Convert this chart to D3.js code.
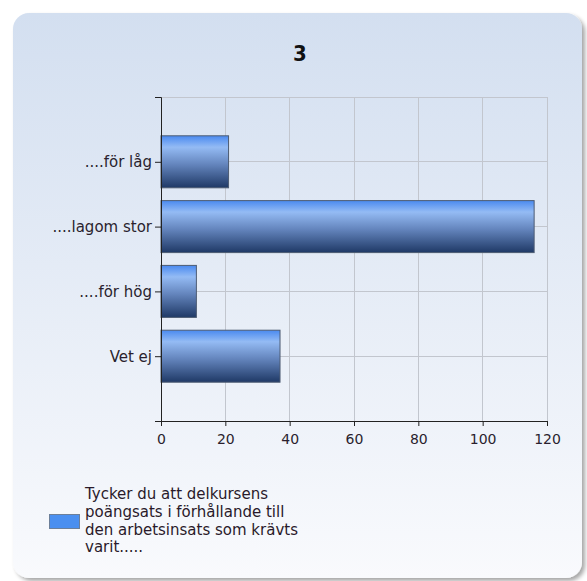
<!DOCTYPE html>
<html><head><meta charset="utf-8">
<script src="https://cdn.jsdelivr.net/npm/d3@7"></script>
<style>body{margin:0;background:#fff}svg{display:block}</style>
</head><body>
<script>
const title = "3";
const categories = ["....för låg", "....lagom stor", "....för hög", "Vet ej"];
const values = [21, 116, 11, 37];
const xTicks = [0, 20, 40, 60, 80, 100, 120];
const legendLines = ["Tycker du att delkursens", "poängsats i förhållande till", "den arbetsinsats som krävts", "varit....."];

(function(){
const W = 587, H = 581;
const svg = d3.select("body").append("svg").attr("width", W).attr("height", H);
const defs = svg.append("defs");

const bg = defs.append("linearGradient").attr("id","bg").attr("x1",0).attr("y1",0).attr("x2",0).attr("y2",1);
bg.append("stop").attr("offset","0%").attr("stop-color","#d3dff0");
bg.append("stop").attr("offset","100%").attr("stop-color","#f9fafd");

const sh = defs.append("filter").attr("id","sh").attr("x","-5%").attr("y","-5%").attr("width","115%").attr("height","115%");
sh.append("feGaussianBlur").attr("in","SourceAlpha").attr("stdDeviation",2);
sh.append("feOffset").attr("dx",3).attr("dy",3).attr("result","b");
sh.append("feComponentTransfer").append("feFuncA").attr("type","linear").attr("slope",0.35);
const fm = sh.append("feMerge"); fm.append("feMergeNode"); fm.append("feMergeNode").attr("in","SourceGraphic");

const bar = defs.append("linearGradient").attr("id","bar").attr("x1",0).attr("y1",0).attr("x2",0).attr("y2",1);
[["0%","#4a8af0"],["22%","#94bbf4"],["55%","#6485bd"],["100%","#1f3966"]].forEach(s=>bar.append("stop").attr("offset",s[0]).attr("stop-color",s[1]));

svg.append("rect").attr("x",13).attr("y",13).attr("width",569).attr("height",565).attr("rx",16)
  .attr("fill","url(#bg)").attr("filter","url(#sh)");

svg.append("text").attr("x",300).attr("y",61).attr("text-anchor","middle")
  .attr("font-family","DejaVu Sans Condensed, DejaVu Sans").attr("font-weight","bold").attr("font-size",22)
  .attr("fill","#111").text(title);

const pl = 161, pr = 547, pt = 97, pb = 421;
const x = d3.scaleLinear().domain([0,120]).range([pl,pr]);
const y = d3.scaleLinear().domain([0, categories.length+1]).range([pt,pb]);
const font = "DejaVu Sans";

const g = svg.append("g");
g.selectAll(".vg").data(xTicks.slice(1)).join("line")
  .attr("x1",d=>x(d)).attr("x2",d=>x(d)).attr("y1",pt).attr("y2",pb)
  .attr("stroke","#c2c6ce").attr("stroke-width",1).attr("shape-rendering","crispEdges");
g.selectAll(".hg").data(d3.range(0,categories.length+1)).join("line")
  .attr("x1",pl).attr("x2",pr).attr("y1",i=>y(i)).attr("y2",i=>y(i))
  .attr("stroke","#c2c6ce").attr("stroke-width",1).attr("shape-rendering","crispEdges");

const bh = 52;
g.selectAll(".bar").data(values).join("rect")
  .attr("x",x(0)).attr("y",(d,i)=>y(i+1)-bh/2).attr("width",d=>x(d)-x(0)).attr("height",bh)
  .attr("fill","url(#bar)").attr("stroke","#4d5c73").attr("stroke-width",1);

const xa = svg.append("g").attr("transform",`translate(0,${pb})`)
  .call(d3.axisBottom(x).tickValues(xTicks).tickSize(5).tickSizeOuter(0).tickPadding(8));
xa.select(".domain").attr("d",`M${pl-6},0.5H${pr}`).attr("stroke","#222");
xa.selectAll(".tick line").attr("stroke","#222");
xa.selectAll("text").attr("font-family",font).attr("font-size",14).attr("fill","#2a1f2e");

const ya = svg.append("g").attr("transform",`translate(${pl},0)`)
  .call(d3.axisLeft(y).tickValues(d3.range(1,categories.length+1)).tickFormat(i=>categories[i-1]).tickSize(6).tickSizeOuter(0).tickPadding(3));
ya.select(".domain").attr("d",`M-6,${pt}.5H0.5V${pb}`).attr("stroke","#222");
ya.selectAll(".tick line").attr("stroke","#222");
ya.selectAll("text").attr("font-family",font).attr("font-size",15).attr("fill","#2a1f2e");

svg.append("rect").attr("x",49.5).attr("y",514.5).attr("width",30).attr("height",14)
  .attr("fill","#4a8ff0").attr("stroke","#6c7f99");
const lt = svg.append("text").attr("font-family",font).attr("font-size",15).attr("fill","#2a1a2a");
legendLines.forEach((l,i)=>lt.append("tspan").attr("x",85).attr("y",499+i*17.8).text(l));
})();
</script>
</body></html>
